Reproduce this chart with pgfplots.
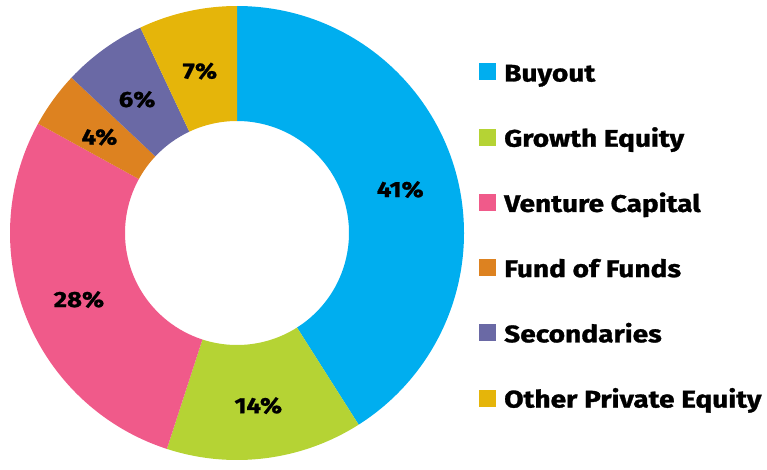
\documentclass[border=0pt]{standalone}
\usepackage{pgfplots}
\usepackage{pgfplotstable}
\pgfplotsset{compat=1.18}
\usepackage{fontspec}
\setmainfont{Fira Sans}[BoldFeatures={FakeStretch=1.17, FakeBold=1.2}]

\definecolor{col0}{HTML}{00AEEF}
\definecolor{col1}{HTML}{B5D334}
\definecolor{col2}{HTML}{F05A8A}
\definecolor{col3}{HTML}{DD8220}
\definecolor{col4}{HTML}{6A69A5}
\definecolor{col5}{HTML}{E5B50A}

\pgfplotstableread[col sep=comma]{
label,value
Buyout,41
Growth Equity,14
Venture Capital,28
Fund of Funds,4
Secondaries,6
Other Private Equity,7
}\data

% precompute angles
\def\cum{0}
\pgfplotsforeachungrouped \i in {0,...,5}{%
  \pgfplotstablegetelem{\i}{value}\of\data
  \let\v\pgfplotsretval
  \expandafter\xdef\csname val\i\endcsname{\v}%
  \pgfplotstablegetelem{\i}{label}\of\data
  \expandafter\xdef\csname lab\i\endcsname{\pgfplotsretval}%
  \pgfmathsetmacro\sa{90-3.6*\cum}%
  \pgfmathsetmacro\ea{90-3.6*(\cum+\v)}%
  \pgfmathsetmacro\ma{(\sa+\ea)/2}%
  \pgfmathsetmacro\ly{459-72-65.2*\i}%
  \expandafter\xdef\csname sa\i\endcsname{\sa}%
  \expandafter\xdef\csname ea\i\endcsname{\ea}%
  \expandafter\xdef\csname ma\i\endcsname{\ma}%
  \expandafter\xdef\csname ly\i\endcsname{\ly}%
  \pgfmathsetmacro\cum{\cum+\v}%
  \xdef\cum{\cum}%
}

\def\cx{237}
\def\cy{226}
\def\Ro{227}
\def\Ri{112}

\begin{document}
\begin{tikzpicture}
\begin{axis}[
  x=1pt, y=1pt,
  xmin=0, xmax=767, ymin=0, ymax=459,
  hide axis, scale only axis, clip=false,
]
\path (axis cs:0,0) rectangle (axis cs:767,459);
\pgfplotsinvokeforeach{0,...,5}{
  \fill[col#1]
    ([shift={(\csname sa#1\endcsname:\Ro pt)}]axis cs:\cx,\cy)
    arc[start angle=\csname sa#1\endcsname, end angle=\csname ea#1\endcsname, radius=\Ro pt]
    -- ([shift={(\csname ea#1\endcsname:\Ri pt)}]axis cs:\cx,\cy)
    arc[start angle=\csname ea#1\endcsname, end angle=\csname sa#1\endcsname, radius=\Ri pt]
    -- cycle;
  \node[font=\fontsize{22}{22}\selectfont\bfseries]
    at ([shift={(\csname ma#1\endcsname:170pt)}]axis cs:\cx,\cy-4)
    {\csname val#1\endcsname\%};
  \fill[col#1] (axis cs:479,\csname ly#1\endcsname-8.5) rectangle (axis cs:496,\csname ly#1\endcsname+8.5);
  \node[anchor=base west, inner sep=0pt, font=\fontsize{24}{24}\selectfont\bfseries]
    at (axis cs:504,\csname ly#1\endcsname-9.5) {\csname lab#1\endcsname};
}
\end{axis}
\end{tikzpicture}
\end{document}
